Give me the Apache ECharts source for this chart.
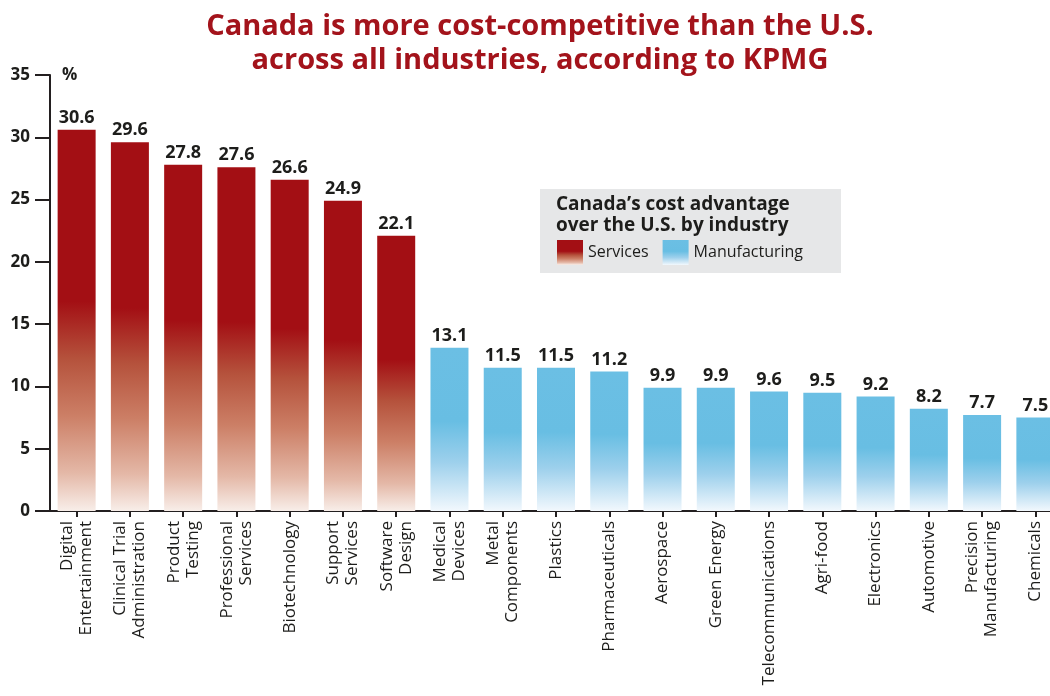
<!DOCTYPE html>
<html>
<head>
<meta charset="utf-8">
<script src="https://cdn.jsdelivr.net/npm/echarts@6/dist/echarts.min.js"></script>
<style>
  html, body { margin: 0; padding: 0; background: #ffffff; }
  #chart { width: 1050px; height: 696px; }
</style>
</head>
<body>
<div id="chart"></div>
<script>
// Industry categories (line breaks as drawn under the axis)
const categories = [
  'Digital\nEntertainment', 'Clinical Trial\nAdministration', 'Product\nTesting',
  'Professional\nServices', 'Biotechnology', 'Support\nServices', 'Software\nDesign',
  'Medical\nDevices', 'Metal\nComponents', 'Plastics', 'Pharmaceuticals', 'Aerospace',
  'Green Energy', 'Telecommunications', 'Agri-food', 'Electronics', 'Automotive',
  'Precision\nManufacturing', 'Chemicals'
];

// Cost advantage (%) by industry group; '-' leaves the slot to the other group
const servicesValues = [30.6, 29.6, 27.8, 27.6, 26.6, 24.9, 22.1,
  '-', '-', '-', '-', '-', '-', '-', '-', '-', '-', '-', '-'];
const manufacturingValues = ['-', '-', '-', '-', '-', '-', '-',
  13.1, 11.5, 11.5, 11.2, 9.9, 9.9, 9.6, 9.5, 9.2, 8.2, 7.7, 7.5];

const yTicks = { min: 0, max: 35, interval: 5 };

const FONT = '"Open Sans", "Noto Sans", sans-serif';
const INK = '#1d1d1b';

const servicesFill = new echarts.graphic.LinearGradient(0, 0, 0, 1, [
  { offset: 0, color: '#a30f14' },
  { offset: 0.45, color: '#a30f14' },
  { offset: 0.6, color: '#b5523c' },
  { offset: 0.75, color: '#cc7f66' },
  { offset: 0.9, color: '#e4b8a7' },
  { offset: 1, color: '#f8eee9' }
]);
const manufacturingFill = new echarts.graphic.LinearGradient(0, 0, 0, 1, [
  { offset: 0, color: '#6bbfe4' },
  { offset: 0.45, color: '#68bee3' },
  { offset: 0.7, color: '#9dd0ec' },
  { offset: 1, color: '#f2f8fd' }
]);

const valueLabel = {
  show: true,
  position: 'top',
  distance: 3,
  fontFamily: FONT,
  fontWeight: 'bold',
  fontSize: 18,
  color: INK,
  formatter: p => (typeof p.value === 'number' ? p.value.toFixed(1) : '')
};

const chart = echarts.init(document.getElementById('chart'), null, { renderer: 'canvas' });

chart.setOption({
  backgroundColor: '#ffffff',
  animation: false,
  title: [{
    text: 'Canada is more cost-competitive than the U.S.\nacross all industries, according to KPMG',
    left: 535,
    top: 5,
    textAlign: 'center',
    textStyle: {
      fontFamily: FONT,
      fontWeight: 'bold',
      fontSize: 29,
      lineHeight: 34,
      color: '#a3131b'
    }
  }],
  graphic: [
    {
      type: 'rect',
      left: 540, top: 189, z: -1,
      shape: { width: 301, height: 84 },
      style: { fill: '#e6e7e8' }
    },
    {
      type: 'text',
      left: 556, top: 194,
      style: {
        text: 'Canada’s cost advantage\nover the U.S. by industry',
        font: 'bold 19px ' + FONT,
        lineHeight: 21,
        fill: INK
      }
    }
  ],
  legend: {
    left: 557,
    top: 240,
    padding: 0,
    itemWidth: 26,
    itemHeight: 25,
    itemGap: 14,
    icon: 'rect',
    textStyle: { fontFamily: FONT, fontSize: 16, color: INK },
    data: ['Services', 'Manufacturing']
  },
  grid: {
    left: 50, width: 1012, top: 75, bottom: 185,
    containLabel: false,
    outerBoundsMode: 'none'
  },
  xAxis: {
    type: 'category',
    data: categories,
    axisLine: { show: true, lineStyle: { color: '#231f20', width: 2 } },
    axisTick: { show: true, alignWithLabel: true, length: 6, lineStyle: { color: '#231f20', width: 2 } },
    axisLabel: {
      rotate: 90,
      interval: 0,
      margin: 10,
      fontFamily: FONT,
      fontSize: 17,
      lineHeight: 19,
      color: INK
    }
  },
  yAxis: {
    type: 'value',
    min: yTicks.min,
    max: yTicks.max,
    interval: yTicks.interval,
    name: '%',
    nameLocation: 'end',
    nameGap: 0,
    nameTextStyle: {
      fontFamily: FONT, fontWeight: 'bold', fontSize: 17, color: INK,
      align: 'left', verticalAlign: 'middle', padding: [0, 0, 0, 12]
    },
    axisLine: { show: true, lineStyle: { color: '#231f20', width: 2 } },
    axisTick: { show: true, length: 15, lineStyle: { color: '#231f20', width: 2 } },
    axisLabel: {
      margin: 20,
      fontFamily: FONT,
      fontWeight: 'bold',
      fontSize: 17,
      color: INK
    },
    splitLine: { show: false }
  },
  series: [
    {
      name: 'Services',
      type: 'bar',
      stack: 'industry',
      barWidth: 38,
      data: servicesValues,
      itemStyle: { color: servicesFill },
      label: valueLabel
    },
    {
      name: 'Manufacturing',
      type: 'bar',
      stack: 'industry',
      barWidth: 38,
      data: manufacturingValues,
      itemStyle: { color: manufacturingFill },
      label: valueLabel
    }
  ]
});
</script>
</body>
</html>
